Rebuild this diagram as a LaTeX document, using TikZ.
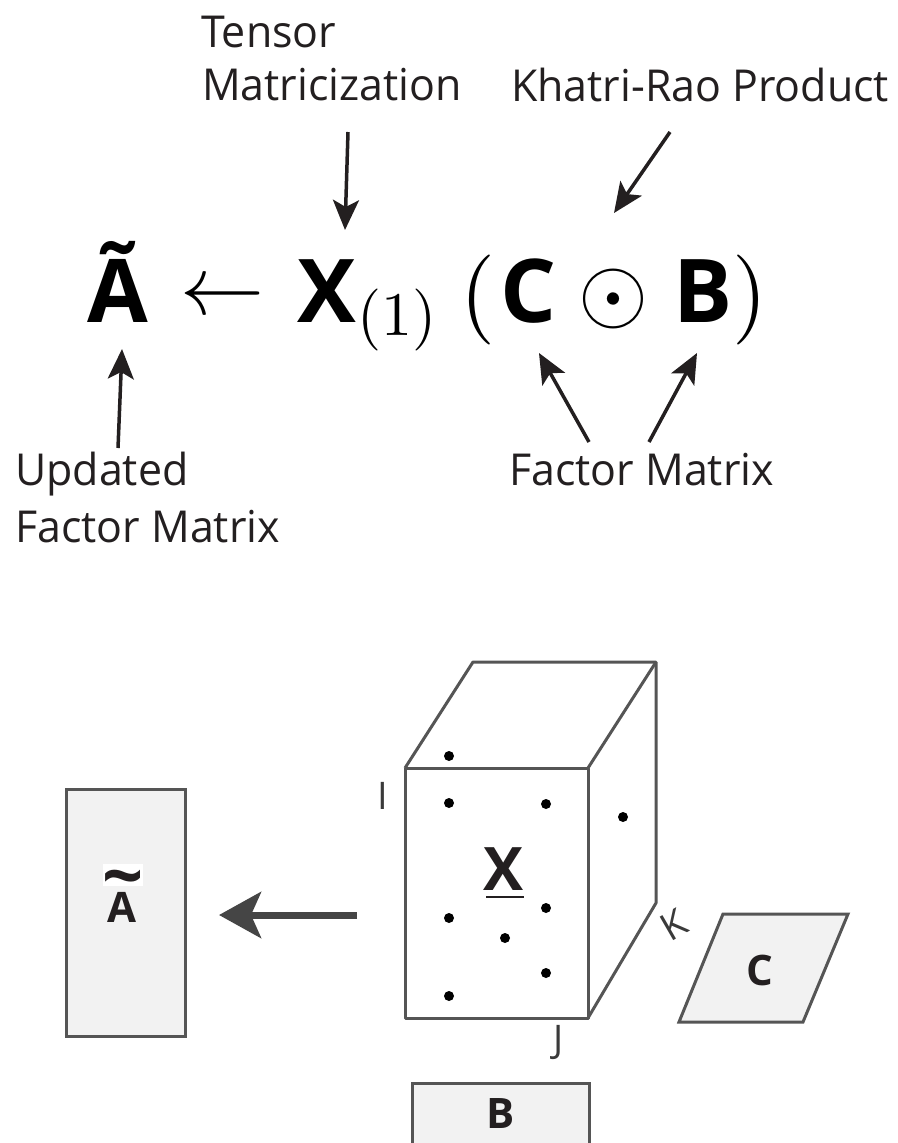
\documentclass[tikz,border=0pt]{standalone}
\usepackage[no-math]{fontspec}
\usepackage{graphicx}
\usetikzlibrary{arrows.meta}
\newfontfamily\labfont{Open Sans}[FakeStretch=0.975]
\newfontfamily\osfont{Open Sans}
\definecolor{ink}{HTML}{231F20}
\definecolor{edge}{HTML}{555555}
\definecolor{boxfill}{HTML}{F2F2F2}
\definecolor{bigarrow}{HTML}{454545}
\definecolor{lblgray}{HTML}{3A3A3A}
\begin{document}
\begin{tikzpicture}[x=1pt,y=-1pt,
  lab/.style={font=\labfont\fontsize{44}{53}\selectfont, text=ink, inner sep=0pt, anchor=base west},
  sym/.style={font=\osfont\bfseries\fontsize{88}{88}\selectfont, inner sep=0pt, anchor=base},
  mth/.style={inner sep=0pt},
  ptr/.style={-{Stealth[length=30pt,width=26pt,inset=7pt]}, line width=3.5pt, draw=ink},
  box/.style={draw=edge, line width=3pt, fill=boxfill, inner sep=0pt},
  boxlab/.style={font=\osfont\bfseries\fontsize{42}{42}\selectfont, inner sep=0pt, text=ink},
  dimlab/.style={font=\osfont\fontsize{38}{38}\selectfont, inner sep=0pt, text=lblgray, anchor=base},
  cubeline/.style={draw=edge, line width=3pt, line join=round},
  dot/.style={fill=black}
]
\useasboundingbox (0,0) rectangle (897,1143);

% ---------- labels ----------
\node[lab] (tensor) at (201,47) {Tensor};
\node[lab] (matr) at (202,100) {Matricization};
\node[lab] (khatri) at (511,101) {Khatri-Rao Product};
\node[lab] (upd) at (15,485) {Updated};
\node[lab] (fmleft) at (15,542) {Factor Matrix};
\node[lab] (fmright) at (509,485) {Factor Matrix};

% ---------- formula ----------
\node[sym] (At) at (118,322) {Ã};
\node[mth] (larr) at (222.5,299) {\scalebox{8.4}{$\leftarrow$}};
\node[sym] (X1) at (327,322) {X};
\node[mth, anchor=base] (sub) at (397,335) {\scalebox{6.2}{$(1)$}};
\node[mth, anchor=base] (lp) at (478,322) {\scalebox{9}{$($}};
\node[sym] (C) at (529,322) {C};
\node[mth] (odot) at (613,299) {\scalebox{9}{$\odot$}};
\node[sym] (B) at (703,322) {B};
\node[mth, anchor=base] (rp) at (750,322) {\scalebox{9}{$)$}};

% ---------- pointer arrows ----------
\coordinate (p1s) at (348,132); \coordinate (p1e) at (345,230);
\coordinate (p2s) at (670,132); \coordinate (p2e) at (614,213);
\coordinate (p3s) at (118,448); \coordinate (p3e) at (122,349);
\coordinate (p4s) at (589,442); \coordinate (p4e) at (539,353);
\coordinate (p5s) at (649,442); \coordinate (p5e) at (697,353);
\draw[ptr] (p1s) -- (p1e);
\draw[ptr] (p2s) -- (p2e);
\draw[ptr] (p3s) -- (p3e);
\draw[ptr] (p4s) -- (p4e);
\draw[ptr] (p5s) -- (p5e);

% ---------- A tilde box ----------
\node[box, minimum width=119pt, minimum height=247pt] (Abox) at (125.5,912.5) {};
\node[fill=white, inner sep=0pt, minimum width=40pt, minimum height=22pt] (tildebg) at (123,875) {};
\node[boxlab, font=\osfont\bfseries\fontsize{72}{72}\selectfont, anchor=base] (tilde) at (123,901) {\smash{\~{}}};
\node[boxlab, anchor=base] (Alab) at (122,922) {A};

% ---------- big arrow ----------
\coordinate (bas) at (357,915);
\coordinate (bae) at (219,915);
\draw[draw=bigarrow, line width=7pt, -{Stealth[length=42pt,width=46pt,inset=10pt]}] (bas) -- (bae);

% ---------- cube ----------
\coordinate (f1) at (405,768);
\coordinate (f2) at (588,768);
\coordinate (f3) at (588,1018);
\coordinate (f4) at (405,1018);
\coordinate (b1) at (473,662);
\coordinate (b2) at (656,662);
\coordinate (b3) at (656,903);
\draw[cubeline] (f1) -- (f2) -- (f3) -- (f4) -- cycle;
\draw[cubeline] (f1) -- (b1) -- (b2) -- (b3) -- (f3);
\draw[cubeline] (f2) -- (b2);
\foreach \p in {(449,756),(449,803),(546,804),(623,817),(449,918),(546,908),(505,938),(546,973),(449,996)}
  \fill[dot] \p circle (5pt);
\node[boxlab, font=\osfont\bfseries\fontsize{60}{60}\selectfont, anchor=base] (Xlab) at (504,890) {X};
\coordinate (ul1) at (486,897); \coordinate (ul2) at (524,897);
\draw[line width=2.5pt, draw=ink] (ul1) -- (ul2);
\node[dimlab] (Ilab) at (383,809) {I};
\node[dimlab] (Jlab) at (559,1052) {J};
\node[dimlab, anchor=center, rotate=30] (Klab) at (674,925) {K};

% ---------- C parallelogram ----------
\coordinate (c1) at (723,914);
\coordinate (c2) at (848,914);
\coordinate (c3) at (803,1022);
\coordinate (c4) at (679,1022);
\filldraw[box] (c1) -- (c2) -- (c3) -- (c4) -- cycle;
\node[boxlab] (Clab) at (760,970) {C};

% ---------- B box ----------
\coordinate (bb1) at (412,1083);
\coordinate (bb2) at (589,1150);
\filldraw[box] (bb1) rectangle (bb2);
\node[boxlab] (Blab) at (501,1113) {B};
\end{tikzpicture}
\end{document}
